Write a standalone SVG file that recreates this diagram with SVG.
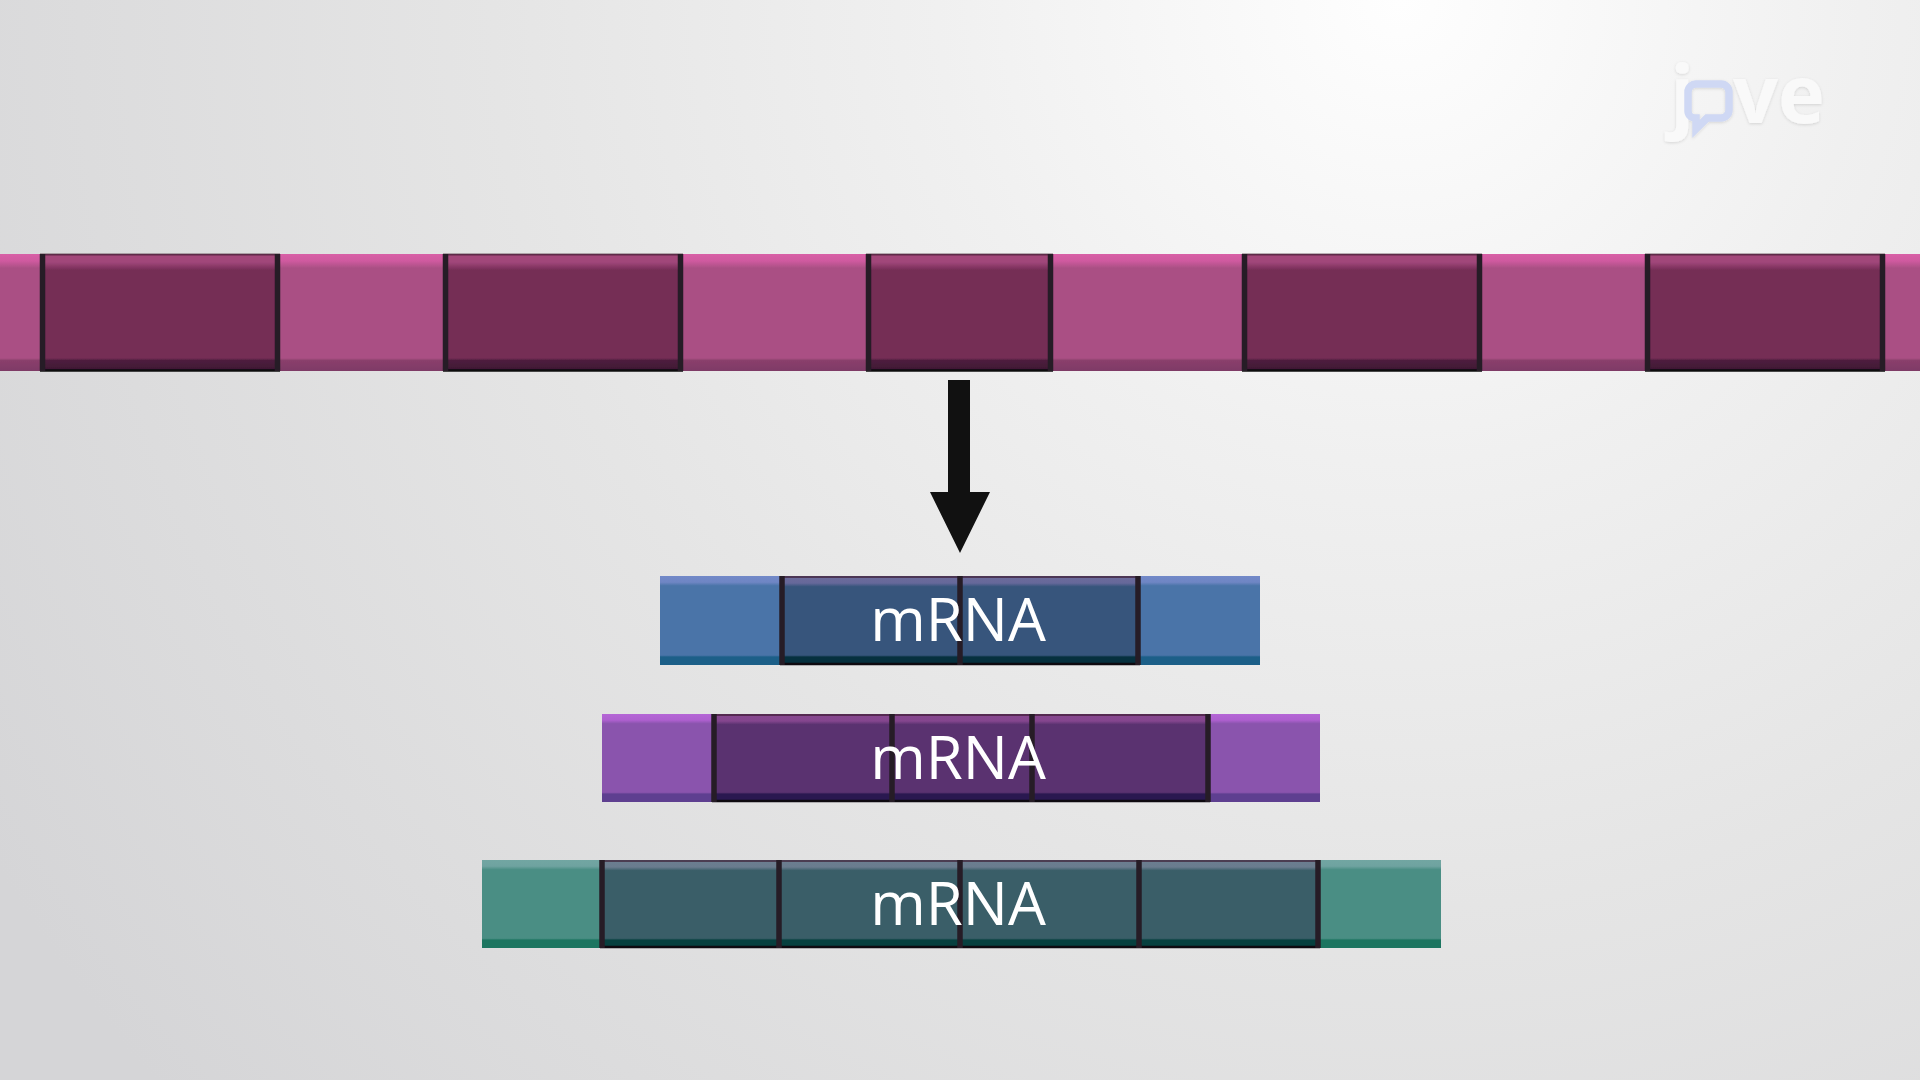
<svg xmlns="http://www.w3.org/2000/svg" width="1920" height="1080" viewBox="0 0 1920 1080">
<defs>
<radialGradient id="bg" gradientUnits="userSpaceOnUse" cx="1400" cy="0" r="1650">
<stop offset="0" stop-color="#fefefe"/><stop offset="0.1" stop-color="#f9f9f9"/><stop offset="0.28" stop-color="#f0f0f0"/><stop offset="0.55" stop-color="#e5e5e5"/><stop offset="0.8" stop-color="#dcdcdd"/><stop offset="1" stop-color="#d5d5d7"/>
</radialGradient>
<linearGradient id="pinkL" x1="0" y1="0" x2="0" y2="1"><stop offset="0" stop-color="#d85fa6"/><stop offset="0.06" stop-color="#cf5a9f"/><stop offset="0.12" stop-color="#aa5084"/><stop offset="0.89" stop-color="#aa5084"/><stop offset="0.91" stop-color="#8a3f6c"/><stop offset="1" stop-color="#7e3a66"/></linearGradient>
<linearGradient id="pinkD" x1="0" y1="0" x2="0" y2="1"><stop offset="0" stop-color="#a4477a"/><stop offset="0.07" stop-color="#a0467a"/><stop offset="0.14" stop-color="#742d55"/><stop offset="0.89" stop-color="#742d55"/><stop offset="0.91" stop-color="#4e1f3e"/><stop offset="1" stop-color="#3c1732"/></linearGradient>
<linearGradient id="blueL" x1="0" y1="0" x2="0" y2="1"><stop offset="0" stop-color="#7289c8"/><stop offset="0.07" stop-color="#6f86c4"/><stop offset="0.11" stop-color="#4a74a8"/><stop offset="0.89" stop-color="#4a74a8"/><stop offset="0.91" stop-color="#1c5f88"/><stop offset="1" stop-color="#1c5f88"/></linearGradient>
<linearGradient id="blueD" x1="0" y1="0" x2="0" y2="1"><stop offset="0" stop-color="#6e6c9c"/><stop offset="0.08" stop-color="#66689a"/><stop offset="0.12" stop-color="#37557c"/><stop offset="0.89" stop-color="#37557c"/><stop offset="0.91" stop-color="#06303e"/><stop offset="1" stop-color="#06303e"/></linearGradient>
<linearGradient id="purpleL" x1="0" y1="0" x2="0" y2="1"><stop offset="0" stop-color="#b566d6"/><stop offset="0.07" stop-color="#ae60cf"/><stop offset="0.11" stop-color="#8a54ad"/><stop offset="0.89" stop-color="#8a54ad"/><stop offset="0.91" stop-color="#5e3f90"/><stop offset="1" stop-color="#5e3f90"/></linearGradient>
<linearGradient id="purpleD" x1="0" y1="0" x2="0" y2="1"><stop offset="0" stop-color="#88488f"/><stop offset="0.08" stop-color="#84468e"/><stop offset="0.12" stop-color="#5a3270"/><stop offset="0.89" stop-color="#5a3270"/><stop offset="0.91" stop-color="#2a1850"/><stop offset="1" stop-color="#2a1850"/></linearGradient>
<linearGradient id="tealL" x1="0" y1="0" x2="0" y2="1"><stop offset="0" stop-color="#72a6a2"/><stop offset="0.07" stop-color="#6fa3a0"/><stop offset="0.11" stop-color="#4a8e84"/><stop offset="0.89" stop-color="#4a8e84"/><stop offset="0.91" stop-color="#1c7560"/><stop offset="1" stop-color="#1c7560"/></linearGradient>
<linearGradient id="tealD" x1="0" y1="0" x2="0" y2="1"><stop offset="0" stop-color="#6c7e90"/><stop offset="0.08" stop-color="#6a7c8e"/><stop offset="0.12" stop-color="#3a5e68"/><stop offset="0.89" stop-color="#3a5e68"/><stop offset="0.91" stop-color="#06403f"/><stop offset="1" stop-color="#06403f"/></linearGradient>
<filter id="soft" x="-20%" y="-30%" width="140%" height="160%"><feDropShadow dx="0" dy="1" stdDeviation="1.500" flood-color="#000" flood-opacity="0.13"/></filter>
<filter id="blur" x="-5%" y="-5%" width="110%" height="110%"><feGaussianBlur stdDeviation="0.5"/></filter>
</defs>
<style>
.side{stroke:#261c26;stroke-width:5.500;fill:none}
.top{stroke-width:1.800;fill:none;stroke-opacity:0.65;stroke:#3a1a30}
.bot{stroke:#0e0a10;stroke-width:2.500;fill:none}
.lbl{font-family:"Open Sans","Noto Sans",sans-serif;font-size:60px;fill:#ffffff;text-anchor:middle}
.logo{font-family:"Open Sans","Noto Sans",sans-serif;font-weight:700;font-size:80px;fill:#f9f9f9}
</style>
<rect id="background" width="1920" height="1080" fill="url(#bg)"/>
<g id="logo" filter="url(#soft)">
<text class="logo" x="1670" y="123">j</text>
<text class="logo" x="1733" y="123" textLength="92" lengthAdjust="spacingAndGlyphs">ve</text>
<path d="M1697 84h24a8 8 0 0 1 8 8v18a8 8 0 0 1-8 8h-14l-11 11v-11h-1a7 7 0 0 1-7-7v-19a8 8 0 0 1 9-8z" fill="none" stroke="#cfd8f4" stroke-width="7.500"/>
</g>
<g id="connectors">
<path id="arrow" d="M948 380h22v112h20l-30 61-30-61h18z" fill="#111111"/>
</g>
<g id="pre-mrna" filter="url(#blur)">
<rect x="0" y="254" width="1920" height="117" fill="url(#pinkL)"/>
<g id="exon-1"><rect x="40" y="254" width="240" height="117" fill="url(#pinkD)"/><path class="top" d="M40 254.500h240"/><path class="bot" d="M40 370.500h240"/><path class="side" d="M42.500 254v117M277.500 254v117"/></g>
<g id="exon-2"><rect x="443" y="254" width="240" height="117" fill="url(#pinkD)"/><path class="top" d="M443 254.500h240"/><path class="bot" d="M443 370.500h240"/><path class="side" d="M445.500 254v117M680.500 254v117"/></g>
<g id="exon-3"><rect x="866" y="254" width="187" height="117" fill="url(#pinkD)"/><path class="top" d="M866 254.500h187"/><path class="bot" d="M866 370.500h187"/><path class="side" d="M868.500 254v117M1050.500 254v117"/></g>
<g id="exon-4"><rect x="1242" y="254" width="240" height="117" fill="url(#pinkD)"/><path class="top" d="M1242 254.500h240"/><path class="bot" d="M1242 370.500h240"/><path class="side" d="M1244.500 254v117M1479.500 254v117"/></g>
<g id="exon-5"><rect x="1645" y="254" width="240" height="117" fill="url(#pinkD)"/><path class="top" d="M1645 254.500h240"/><path class="bot" d="M1645 370.500h240"/><path class="side" d="M1647.500 254v117M1882.500 254v117"/></g>
</g>
<g id="mrna-blue">
<rect x="660" y="576" width="600" height="89" fill="url(#blueL)"/>
<rect x="780" y="576" width="360" height="89" fill="url(#blueD)"/>
<path class="top" d="M780 577h360"/><path class="bot" d="M780 664h360"/>
<path class="side" d="M782 576v89M1138 576v89M960 576v89"/>
<text class="lbl" x="958" y="641">mRNA</text>
</g>
<g id="mrna-purple">
<rect x="602" y="714" width="718" height="88" fill="url(#purpleL)"/>
<rect x="712" y="714" width="498" height="88" fill="url(#purpleD)"/>
<path class="top" d="M712 715h498"/><path class="bot" d="M712 801h498"/>
<path class="side" d="M714 714v88M1208 714v88M892 714v88M1032 714v88"/>
<text class="lbl" x="958" y="779">mRNA</text>
</g>
<g id="mrna-teal">
<rect x="482" y="860" width="959" height="88" fill="url(#tealL)"/>
<rect x="600" y="860" width="720" height="88" fill="url(#tealD)"/>
<path class="top" d="M600 861h720"/><path class="bot" d="M600 947h720"/>
<path class="side" d="M602 860v88M1318 860v88M779 860v88M960 860v88M1139 860v88"/>
<text class="lbl" x="958" y="925">mRNA</text>
</g>
</svg>
